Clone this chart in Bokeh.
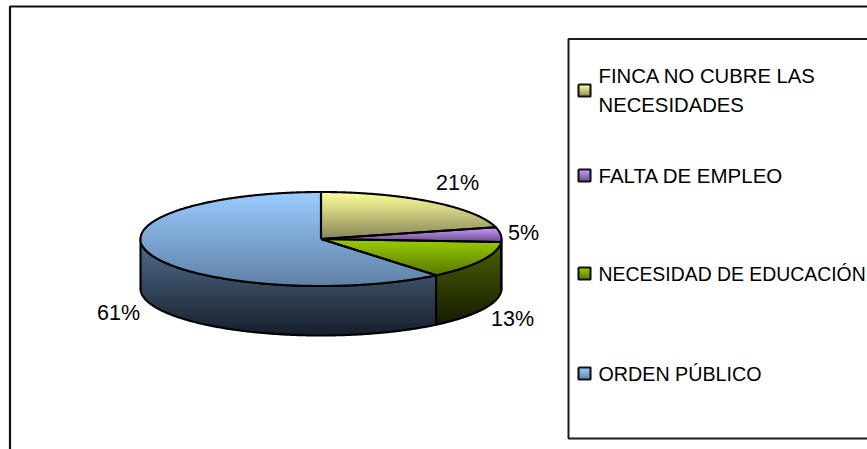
import numpy as np
from bokeh.plotting import figure
from bokeh.models import ColumnDataSource
from bokeh.core.properties import value
from bokeh.embed import file_html
from bokeh.resources import INLINE

# ---- data
categories = ["FINCA NO CUBRE LAS\nNECESIDADES", "FALTA DE EMPLEO", "NECESIDAD DE EDUCACIÓN", "ORDEN PÚBLICO"]
values = [21, 5, 13, 61]
pct_labels = ["21%", "5%", "13%", "61%"]

# ---- styles
top_light = ["#FFFF99", "#CC99FF", "#99CC00", "#99CCFF"]
top_dark = ["#85845A", "#664C80", "#587500", "#5F80A6"]
side_light = ["#57563A", "#4A3A60", "#4C6200", "#536D8C"]
side_dark = ["#1C1C10", "#1A1420", "#141A00", "#151F2B"]
W, H = 867, 449
CX, CY, RX, RY, DEPTH = 320.5, 238.5, 180.5, 47.0, 49.5
FONT = value("Liberation Sans")
label_xy = [(457, 182), (523, 232), (512, 318), (118, 312)]
legend_y = [90, 175, 273, 373]
legend_fs = ["20.3px", "20.5px", "19.4px", "19.7px"]

p = figure(width=W, height=H, output_backend="svg", toolbar_location=None,
           x_range=(0, W), y_range=(H, 0), min_border=0, outline_line_color=None,
           x_axis_type=None, y_axis_type=None,
           background_fill_color="white", border_fill_color="white")
p.grid.visible = False


def rgb(h):
    return np.array([int(h[i:i + 2], 16) for i in (1, 3, 5)], float)


def mix(a, b, t):
    c = rgb(a) * (1 - t) + rgb(b) * t
    return "#%02x%02x%02x" % tuple(int(round(v)) for v in c)


def clip_below(xs, ys, t):
    """keep the part of a polygon with y >= t"""
    ox, oy = [], []
    n = len(xs)
    for i in range(n):
        x0, y0, x1, y1 = xs[i], ys[i], xs[(i + 1) % n], ys[(i + 1) % n]
        if y0 >= t:
            ox.append(x0); oy.append(y0)
        if (y0 >= t) != (y1 >= t):
            f = (t - y0) / (y1 - y0)
            ox.append(x0 + f * (x1 - x0)); oy.append(t)
    return ox, oy


def gradient(xs, ys, c0, c1):
    """painted from top to bottom: each step covers everything below its row"""
    y0, y1 = min(ys), max(ys)
    rows = np.arange(y0, y1, 1.0)
    px, py, col = [], [], []
    for r in rows:
        a, b = clip_below(list(xs), list(ys), r)
        if len(a) >= 3:
            px.append(a); py.append(b)
            col.append(mix(c0, c1, (r - y0) / max(y1 - y0, 1)))
    p.patches("x", "y", fill_color="c", line_color=None,
              source=ColumnDataSource(dict(x=px, y=py, c=col)))


def arc(a0, a1, cy=CY):
    n = max(int(abs(a1 - a0) * 120), 2)
    t = np.linspace(a0, a1, n)
    return CX + RX * np.cos(t), cy - RY * np.sin(t)


# frame and legend box
p.quad(left=9.5, right=W + 20, top=6, bottom=H + 20, fill_color="white", line_color="#111111", line_width=2.2)
p.quad(left=568, right=W + 20, top=38.5, bottom=438, fill_color="white", line_color="#1a1a1a", line_width=2)

# wedge angles
fr = np.cumsum([0] + values) / sum(values)
ang = np.pi / 2 - 2 * np.pi * fr

# side walls (visible, lower half only)
low_a, low_b = -np.pi, 0.0
outl_x, outl_y = [], []
for i in range(len(values)):
    a1, a0 = ang[i], ang[i + 1]  # a1 > a0
    lo, hi = max(a0, low_a), min(a1, low_b)
    if hi <= lo:
        continue
    ax, ay = arc(hi, lo)
    sx = np.concatenate([ax, ax[::-1]])
    sy = np.concatenate([ay, ay[::-1] + DEPTH])
    gradient(sx, sy, side_light[i], side_dark[i])
    outl_x.append(list(sx) + [sx[0]])
    outl_y.append(list(sy) + [sy[0]])
p.multi_line(outl_x, outl_y, line_color="black", line_width=2.1, line_join="round")

# top faces
top_x, top_y = [], []
for i in range(len(values)):
    ax, ay = arc(ang[i], ang[i + 1])
    wx = np.concatenate([[CX], ax])
    wy = np.concatenate([[CY], ay])
    gradient(wx, wy, top_light[i], top_dark[i])
    top_x.append(list(wx) + [CX])
    top_y.append(list(wy) + [CY])
p.multi_line(top_x, top_y, line_color="black", line_width=2.1, line_join="round")

# percentage labels
p.text([q[0] for q in label_xy], [q[1] for q in label_xy], text=pct_labels, text_font=FONT,
       text_font_size="21.5px", text_color="#000000", text_align="center", text_baseline="middle")

# legend
for i, y in enumerate(legend_y):
    bx = [578, 590, 590, 578]
    by = [y - 6, y - 6, y + 6, y + 6]
    gradient(bx, by, top_light[i], top_dark[i])
    p.multi_line([bx + bx[:1]], [by + by[:1]], line_color="#111111", line_width=2.1)
legend_src = ColumnDataSource(dict(x=[598] * 4, y=legend_y, t=categories, fs=legend_fs))
p.text("x", "y", text="t", text_font=FONT, text_font_size="fs", source=legend_src,
       text_color="#000000", text_align="left", text_baseline="middle", text_line_height=1.36)

open("out.html", "w").write(file_html(p, INLINE))
